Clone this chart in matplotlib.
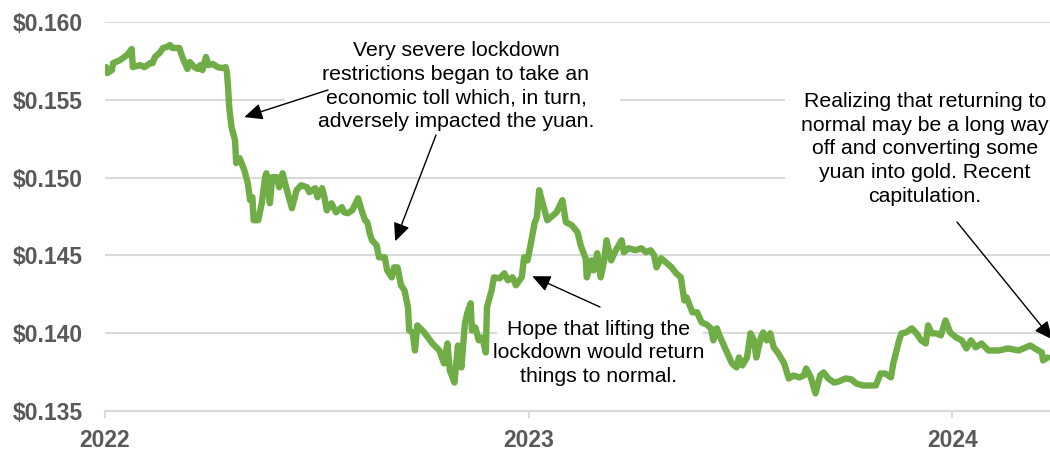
import datetime as dt
import matplotlib
matplotlib.use("Agg")
import matplotlib.pyplot as plt
import matplotlib.dates as mdates
from matplotlib.patches import Rectangle
from matplotlib.ticker import FuncFormatter

plt.rcParams["font.family"] = ["Liberation Sans", "DejaVu Sans"]

start = dt.date(2022, 1, 1)

# days since 2022-01-01 and CNY price in USD
day_offsets = [
    1, 2, 6, 7, 13, 19, 23, 24, 30, 34, 39, 41, 43, 47, 50, 53, 56, 58, 64, 67,
    71, 73, 77, 80, 82, 84, 87, 89, 93, 97, 101, 104, 105, 106, 107, 109, 112, 113, 116, 120,
    123, 125, 127, 128, 132, 135, 138, 139, 142, 144, 148, 150, 153, 156, 161, 165, 169, 174, 176, 181,
    183, 187, 189, 191, 195, 199, 204, 206, 209, 213, 218, 221, 224, 226, 228, 230, 234, 236, 241, 243,
    247, 249, 252, 255, 258, 261, 262, 265, 267, 269, 275, 282, 288, 292, 295, 297, 301, 304, 307, 310,
    312, 315, 316, 319, 322, 325, 328, 329, 333, 335, 340, 344, 347, 351, 354, 357, 359, 361, 364, 367,
    370, 372, 374, 377, 381, 389, 394, 397, 402, 407, 410, 414, 415, 419, 421, 424, 427, 430, 432, 436,
    440, 445, 447, 451, 457, 462, 466, 470, 473, 475, 479, 483, 488, 492, 496, 499, 501, 506, 510, 514,
    518, 522, 524, 527, 530, 535, 540, 544, 546, 549, 553, 556, 559, 561, 565, 567, 570, 573, 576, 580,
    585, 589, 593, 598, 602, 604, 608, 612, 616, 619, 623, 628, 632, 638, 643, 647, 653, 664, 668, 672,
    677, 679, 684, 686, 690, 695, 699, 703, 707, 709, 712, 716, 720, 724, 728, 733, 738, 742, 746, 750,
    755, 761, 770, 778, 787, 797, 801, 807, 808, 812,
]
cny_usd = [
    0.15710, 0.15672, 0.15691, 0.15736, 0.15755, 0.15788, 0.15826, 0.15710, 0.15723, 0.15710,
    0.15736, 0.15736, 0.15775, 0.15801, 0.15833, 0.15839, 0.15852, 0.15833, 0.15833, 0.15768,
    0.15698, 0.15743, 0.15710, 0.15698, 0.15723, 0.15691, 0.15775, 0.15723, 0.15730, 0.15710,
    0.15704, 0.15710, 0.15678, 0.15582, 0.15453, 0.15324, 0.15241, 0.15093, 0.15125, 0.15048,
    0.14964, 0.14855, 0.14874, 0.14726, 0.14726, 0.14835, 0.15003, 0.15028, 0.14835, 0.15003,
    0.15003, 0.14938, 0.15028, 0.14938, 0.14803, 0.14919, 0.14951, 0.14938, 0.14906, 0.14932,
    0.14874, 0.14932, 0.14874, 0.14790, 0.14835, 0.14777, 0.14810, 0.14777, 0.14771, 0.14790,
    0.14867, 0.14790, 0.14726, 0.14713, 0.14642, 0.14597, 0.14565, 0.14488, 0.14488, 0.14404,
    0.14359, 0.14423, 0.14423, 0.14308, 0.14275, 0.14166, 0.14018, 0.14005, 0.13889, 0.14050,
    0.14005, 0.13934, 0.13889, 0.13806, 0.13934, 0.13761, 0.13683, 0.13921, 0.13780, 0.14063,
    0.14127, 0.14192, 0.14018, 0.14037, 0.13954, 0.13973, 0.13876, 0.14166, 0.14275, 0.14359,
    0.14353, 0.14385, 0.14340, 0.14359, 0.14308, 0.14340, 0.14359, 0.14488, 0.14468, 0.14584,
    0.14707, 0.14745, 0.14919, 0.14835, 0.14726, 0.14777, 0.14855, 0.14713, 0.14694, 0.14649,
    0.14559, 0.14481, 0.14359, 0.14468, 0.14404, 0.14514, 0.14359, 0.14468, 0.14597, 0.14468,
    0.14533, 0.14597, 0.14520, 0.14546, 0.14533, 0.14546, 0.14520, 0.14533, 0.14501, 0.14423,
    0.14481, 0.14456, 0.14423, 0.14385, 0.14359, 0.14211, 0.14230, 0.14134, 0.14134, 0.14069,
    0.14057, 0.14031, 0.13954, 0.14031, 0.13973, 0.13889, 0.13806, 0.13780, 0.13844, 0.13793,
    0.13844, 0.13999, 0.13954, 0.13844, 0.13973, 0.14005, 0.13954, 0.13999, 0.13909, 0.13870,
    0.13806, 0.13709, 0.13728, 0.13716, 0.13728, 0.13773, 0.13716, 0.13613, 0.13728, 0.13748,
    0.13709, 0.13683, 0.13690, 0.13709, 0.13703, 0.13677, 0.13664, 0.13664, 0.13741, 0.13741,
    0.13716, 0.13806, 0.13954, 0.13999, 0.14005, 0.14031, 0.13999, 0.13954, 0.13934, 0.14050,
    0.13999, 0.13999, 0.13986, 0.14082, 0.14005, 0.13973, 0.13954, 0.13902, 0.13954, 0.13909,
    0.13934, 0.13889, 0.13889, 0.13902, 0.13889, 0.13921, 0.13902, 0.13876, 0.13825, 0.13844,
]

y_ticks = [0.135, 0.140, 0.145, 0.150, 0.155, 0.160]

notes = [
    "Very severe lockdown\nrestrictions began to take an\neconomic toll which, in turn,\nadversely impacted the yuan.",
    "Hope that lifting the\nlockdown would return\nthings to normal.",
    "Realizing that returning to\nnormal may be a long way\noff and converting some\nyuan into gold. Recent\ncapitulation.",
]
# where each arrow points (day offset, price)
note_days = [120, 250, 368, 816]
note_prices = [0.15389, 0.14591, 0.14366, 0.13960]

W, H = 1050, 450


def fpx(x, y):
    # pixel position measured from the top-left -> figure fraction
    return x / W, 1 - y / H


fig = plt.figure(figsize=(W / 100, H / 100), dpi=100, facecolor="white")
ax = fig.add_axes([105 / W, 1 - 411 / H, (W - 105) / W, (411 - 22) / H])

dates = [start + dt.timedelta(days=d) for d in day_offsets]
ax.plot(dates, cny_usd, color="#70ad47", lw=4.6,
        solid_joinstyle="round", solid_capstyle="round", zorder=3)

ax.set_ylim(0.135, 0.160)
ax.set_xlim(start, start + dt.timedelta(days=814))
ax.set_yticks(y_ticks)
ax.yaxis.set_major_formatter(FuncFormatter(lambda v, p: "${:.3f}".format(v)))
ax.xaxis.set_major_locator(mdates.YearLocator())
ax.xaxis.set_major_formatter(mdates.DateFormatter("%Y"))

ax.grid(axis="y", color="#d9d9d9", lw=1.5)
ax.set_axisbelow(True)
for s in ["top", "right", "left"]:
    ax.spines[s].set_visible(False)
ax.spines["bottom"].set_color("#d9d9d9")
ax.spines["bottom"].set_linewidth(1.5)
ax.tick_params(axis="y", length=0, pad=16, labelsize=16.5, labelcolor="#595959")
ax.tick_params(axis="x", length=5, width=1.5, color="#d9d9d9", pad=8,
               labelsize=16.5, labelcolor="#595959")
for t in ax.xaxis.get_major_ticks() + ax.yaxis.get_major_ticks():
    t.label1.set_fontweight("bold")

# white boxes behind the notes (they hide the gridlines)
for x0, y0, x1, y1 in [(285, 35, 620, 140), (497, 315, 703, 392), (785, 85, 1050, 210)]:
    ax.add_patch(Rectangle(fpx(x0, y1), (x1 - x0) / W, (y1 - y0) / H,
                           transform=fig.transFigure, facecolor="white",
                           edgecolor="none", zorder=1))

for txt, (x, y) in zip(notes, [(456, 86), (599, 353), (925, 149)]):
    fig.text(*fpx(x, y), txt, ha="center", va="center", fontsize=15.3,
             linespacing=1.31, color="black", zorder=5)

for d, p, (x, y) in zip(note_days, note_prices, [(328, 90), (436, 135), (600, 307), (957, 222)]):
    ax.annotate("", xy=(start + dt.timedelta(days=d), p), xycoords="data",
                xytext=fpx(x, y), textcoords="figure fraction",
                arrowprops=dict(arrowstyle="-|>,head_length=0.55,head_width=0.25",
                                color="black", lw=1,
                                mutation_scale=20, shrinkA=0, shrinkB=0),
                annotation_clip=False, zorder=6)

fig.savefig("out.png", dpi=100, facecolor="white")
